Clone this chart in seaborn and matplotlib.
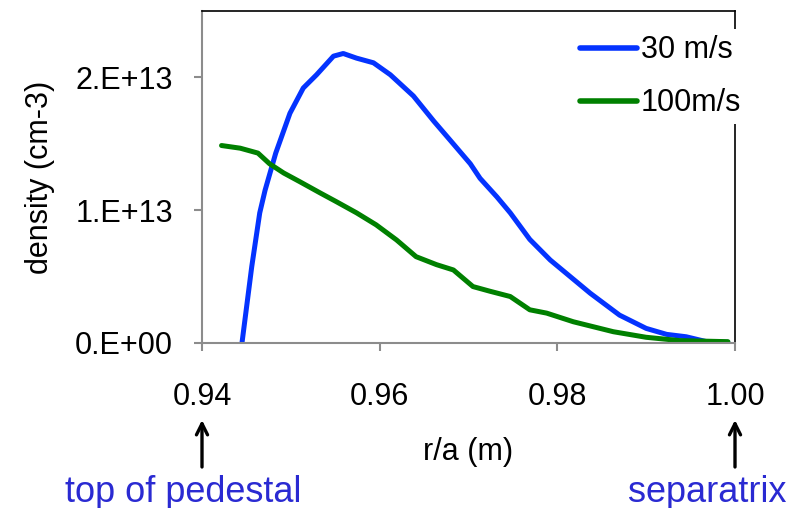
import matplotlib
matplotlib.use("Agg")
import matplotlib.pyplot as plt
import seaborn as sns
import pandas as pd

# values (r/a, density in units of 1e13 cm-3)
r_30 = [0.9445, 0.9456, 0.9465, 0.9471, 0.9483, 0.9499, 0.9514, 0.9529, 0.9548,
        0.9559, 0.9574, 0.9593, 0.9612, 0.9638, 0.9661, 0.9679, 0.9702, 0.9713,
        0.9732, 0.9747, 0.9769, 0.9792, 0.9810, 0.9837, 0.9870, 0.9900, 0.9923,
        0.9945, 0.9968, 0.9992]
dens_30 = [0.0, 0.575, 0.98, 1.15, 1.43, 1.73, 1.92, 2.02, 2.16,
           2.18, 2.145, 2.11, 2.02, 1.86, 1.67, 1.53, 1.35, 1.24,
           1.10, 0.98, 0.78, 0.625, 0.525, 0.375, 0.21, 0.11, 0.065,
           0.047, 0.01, 0.005]
r_100 = [0.9422, 0.9443, 0.9463, 0.9476, 0.9492, 0.9510, 0.9533, 0.9551, 0.9574,
         0.9596, 0.9619, 0.9641, 0.9664, 0.9683, 0.9705, 0.9724, 0.9747, 0.9769,
         0.9788, 0.9818, 0.9863, 0.9900, 0.9938, 0.9992]
dens_100 = [1.487, 1.467, 1.43, 1.35, 1.28, 1.215, 1.13, 1.065, 0.98,
            0.89, 0.776, 0.65, 0.59, 0.55, 0.425, 0.39, 0.35, 0.25,
            0.225, 0.16, 0.085, 0.043, 0.018, 0.01]
series_names = ["30 m/s", "100m/s"]
colors = ["#0433ff", "#008000"]

x_ticks = [0.94, 0.96, 0.98, 1.00]
x_tick_labels = ["0.94", "0.96", "0.98", "1.00"]
y_ticks = [0, 1e13, 2e13]
y_tick_labels = ["0.E+00", "1.E+13", "2.E+13"]

df = pd.concat([
    pd.DataFrame({"r": r_30, "density": [d * 1e13 for d in dens_30], "speed": series_names[0]}),
    pd.DataFrame({"r": r_100, "density": [d * 1e13 for d in dens_100], "speed": series_names[1]}),
])

sns.set_style("white")
plt.rcParams["font.family"] = ["Liberation Sans", "DejaVu Sans"]
plt.rcParams["text.color"] = "black"
plt.rcParams["axes.labelcolor"] = "black"

fig = plt.figure(figsize=(7.9, 5.08), dpi=100)
ax = fig.add_axes([202 / 790, 165 / 508, 533 / 790, 332 / 508])

sns.lineplot(data=df, x="r", y="density", hue="speed", palette=colors,
             linewidth=3.6, estimator=None, sort=False, ax=ax)
for line in ax.get_lines():
    line.set_solid_joinstyle("round")
    line.set_solid_capstyle("round")

ax.set_xlim(0.94, 1.00)
ax.set_ylim(0, 2.5e13)
ax.set_xticks(x_ticks)
ax.set_xticklabels(x_tick_labels)
ax.set_yticks(y_ticks)
ax.set_yticklabels(y_tick_labels)
ax.tick_params(axis="x", direction="out", length=6, width=1.5, color="#8c8c8c",
               pad=22, labelsize=22, labelcolor="black")
ax.tick_params(axis="y", direction="out", length=6, width=1.5, color="#8c8c8c",
               pad=15, labelsize=22, labelcolor="black")
ax.tick_params(bottom=True, left=True)

for side in ["left", "bottom"]:
    ax.spines[side].set_color("#8c8c8c")
    ax.spines[side].set_linewidth(1.5)
for side in ["top", "right"]:
    ax.spines[side].set_color("black")
    ax.spines[side].set_linewidth(1.2)

ax.set_xlabel("r/a (m)", fontsize=22, labelpad=18, color="black")
ax.set_ylabel("density (cm-3)", fontsize=22, labelpad=14, color="black")

leg = ax.legend(loc="upper left", bbox_to_anchor=(559 / 790, 1 - 14 / 508),
                bbox_transform=fig.transFigure, fontsize=22, handlelength=1.85,
                handletextpad=0.12, labelspacing=0.75, borderpad=0.2,
                frameon=True, framealpha=1.0, facecolor="white", edgecolor="none",
                fancybox=False, title=None)
for h in leg.get_lines():
    h.set_linewidth(4)
for t in leg.get_texts():
    t.set_color("black")

# arrows and annotation text below the axis
for xv in [0.94, 1.00]:
    ax.annotate("", xy=(xv, -(420 - 343) / 332), xytext=(xv, -(467 - 343) / 332),
                xycoords=("data", "axes fraction"), textcoords=("data", "axes fraction"),
                arrowprops=dict(arrowstyle="->", lw=2.4, color="black",
                                mutation_scale=20, shrinkA=0, shrinkB=0),
                annotation_clip=False)
fig.text(183 / 790, 1 - 492 / 508, "top of pedestal", color="#2a2ad2",
         fontsize=26, ha="center", va="center")
fig.text(707 / 790, 1 - 492 / 508, "separatrix", color="#2a2ad2",
         fontsize=26, ha="center", va="center")

fig.savefig("out.png", dpi=100)
